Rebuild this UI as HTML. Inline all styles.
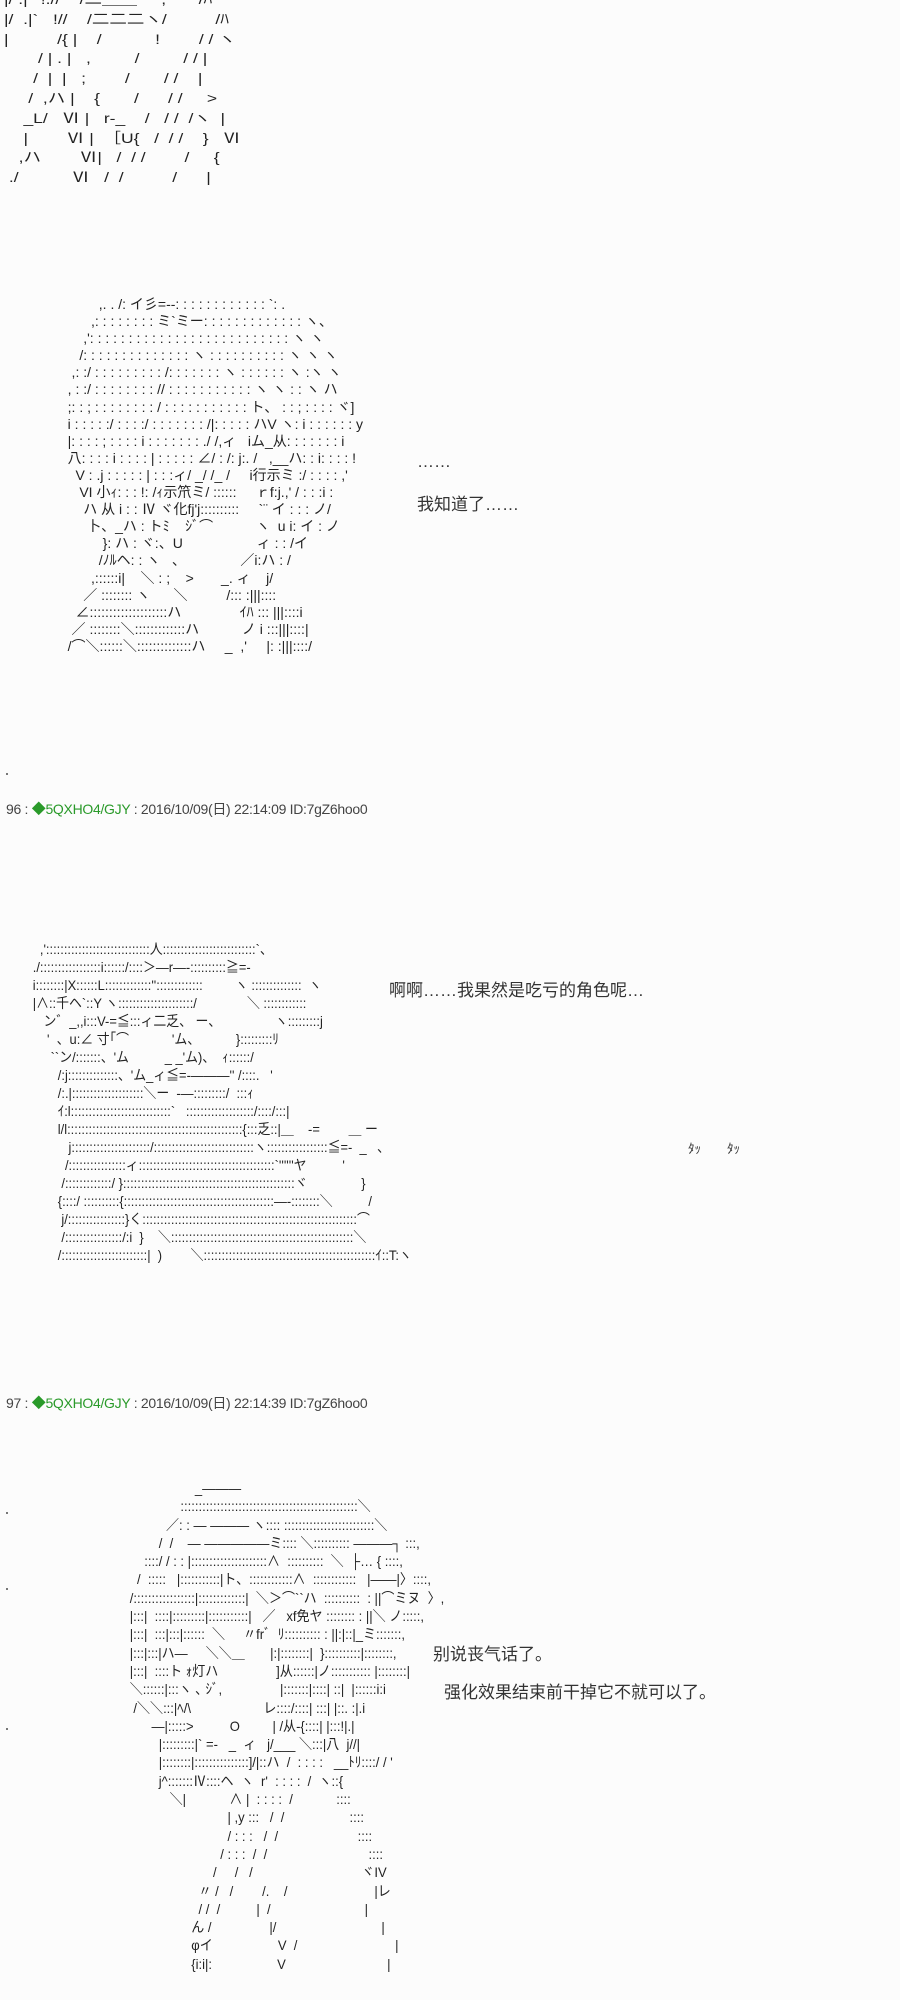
<!DOCTYPE html>
<html><head><meta charset="utf-8">
<style>
html,body{margin:0;padding:0;background:#fcfcfc;}
body{width:900px;height:2000px;position:relative;overflow:hidden;font-family:"Liberation Sans","Noto Sans CJK JP",sans-serif;color:#333;}
pre.aa{position:absolute;margin:0;font-family:"Liberation Sans","Noto Sans CJK JP",sans-serif;font-size:14px;line-height:16.4px;white-space:pre;color:#222;transform-origin:0 0;}
.t{position:absolute;font-size:17px;color:#333;white-space:nowrap;font-family:"Liberation Sans","Noto Sans CJK SC",sans-serif;}
.h{position:absolute;left:6px;font-size:14px;color:#444;white-space:nowrap;letter-spacing:-0.3px;}
.h .g{color:#2a9a2a;}
.dot{position:absolute;left:6px;width:2px;height:2px;background:#777;}
</style></head><body>

<pre class="aa" style="left:4px;top:-10px;line-height:19.8px;transform:scaleX(1.25);">|/ .|'  !.//    /二＿＿     ,'      /ﾊ
|/  .|`   !//    /二二二ヽ/          /ﾊ
|          /{ |    /           !        / / ヽ
       / | . |   ,         /         / / |
      /  |  |   ;        /       / /    |
     /  ,ハ |    {       /      / /     >
    _L/   Ⅵ |   r-_    /   / /  /ヽ  |
    |        Ⅵ |  ［U{   /  / /    }   Ⅵ
   ,ハ        Ⅵ|   /  / /        /     {
 ./           Ⅵ   /  /          /      |</pre>

<pre class="aa" style="left:56px;top:296px;line-height:17.1px;">           ,. . /: イ彡=--: : : : : : : : : : : : `: .
         ,: : : : : : : : ミ`ミー: : : : : : : : : : : : : ヽ、
       ,': : : : : : : : : : : : : : : : : : : : : : : : : : ヽ ヽ
      /: : : : : : : : : : : : : : ヽ : : : : : : : : : : ヽ ヽ ヽ
    ,: :/ : : : : : : : : : /: : : : : : : ヽ : : : : : : ヽ :ヽ ヽ
   , : :/ : : : : : : : : // : : : : : : : : : : : ヽ ヽ : : ヽ ハ
   ;: : ; : : : : : : : : / : : : : : : : : : : : ト、 : : ; : : : : ヾ]
   i : : : : :/ : : : :/ : : : : : : : /|: : : : : ハV ヽ: i : : : : : : y
   |: : : : ; : : : : i : : : : : : : ./ /,ィ   iム_从: : : : : : : i
   八: : : : i : : : : | : : : : : ∠/ : /: j:. /   ,__ハ: : i: : : : !
     V : .j : : : : : | : : :ィ/ _/ /_ /     i行示ミ :/ : : : : ,'
      VI 小ｨ: : : !: /ｨ示笊ミ/ ::::::     ｒf:j.,' / : : :i :
       ハ 从 i : : Ⅳ ヾ化fj'j::::::::::     `¨ イ : : : ノ/
        卜、_ハ : トﾐ    ｼﾞ⌒           ヽ  u i: イ : ノ
            }: ハ : ヾ:、U                   ィ : : /イ
           /ﾉﾙヘ: : ヽ   、              ／i:ハ : /
         ,::::::i|    ＼ : ;    >       _. ィ    j/
       ／ :::::::: ヽ      ＼          /::: :|||::::
     ∠::::::::::::::::::::ハ               ｲﾊ ::: |||::::i
    ／ ::::::::＼:::::::::::::ハ           ノ i :::|||::::|
   /⌒＼::::::＼::::::::::::::ハ     _  ,'     |: :|||::::/</pre>
<div class="dot" style="top:773px"></div>

<div class="t" style="left:417px;top:452px;">……</div>
<div class="t" style="left:417px;top:490px;">我知道了……</div>

<div class="h" style="top:799px;">96 : <span class="g">◆5QXHO4/GJY</span> : 2016/10/09(日) 22:14:09 ID:7gZ6hoo0</div>

<pre class="aa" style="left:22px;top:940px;line-height:18px;transform:scaleX(0.92);">     ,':::::::::::::::::::::::::::::人::::::::::::::::::::::::::`、
   ./:::::::::::::::::i::::::/::::＞―r―-::::::::::≧=-
   i::::::::|X::::::L:::::::::::::'':::::::::::::         ヽ ::::::::::::::  ヽ
   |∧::千ヘ`::Y ヽ:::::::::::::::::::::/              ＼ ::::::::::::
      ン゛_,,i:::V-=≦:::ィ二乏、 ー、               ヽ:::::::::j
       '  、u:∠ 寸｢⌒            'ム、          }:::::::::ﾘ
        ``ン/:::::::、'ム          _ _'ム)、  ｨ::::::/
          /:j::::::::::::::、'ム_ィ≦=-―――'' /::::.   '
          /:.|::::::::::::::::::::＼ー  ‐―:::::::::/  :::ｨ
          ｲ:l::::::::::::::::::::::::::::`   :::::::::::::::::::/::::/:::|
          l/l:::::::::::::::::::::::::::::::::::::::::::::::::{:::乏::|＿    -=        ＿ ー
             j::::::::::::::::::::::/::::::::::::::::::::::::::::ヽ:::::::::::::::::≦=-  _   ､
            /::::::::::::::::ィ::::::::::::::::::::::::::::::::::::::`''''''ヤ          '
           /:::::::::::::/ }::::::::::::::::::::::::::::::::::::::::::::::::ヾ               }
          {::::/ ::::::::::{::::::::::::::::::::::::::::::::::::::::::―-::::::::＼          /
           j/::::::::::::::::}く::::::::::::::::::::::::::::::::::::::::::::::::::::::::::::⌒
           /::::::::::::::::/:i  }    ＼:::::::::::::::::::::::::::::::::::::::::::::::::::＼
          /::::::::::::::::::::::::|  )        ＼::::::::::::::::::::::::::::::::::::::::::::::::ｲ::T:ヽ</pre>

<div class="t" style="left:389px;top:976px;">啊啊……我果然是吃亏的角色呢…</div>
<div class="t" style="left:688px;top:1138px;font-size:13px;">ﾀｯ　　ﾀｯ</div>

<div class="h" style="top:1393px;">97 : <span class="g">◆5QXHO4/GJY</span> : 2016/10/09(日) 22:14:39 ID:7gZ6hoo0</div>

<div class="dot" style="top:1512px"></div>
<div class="dot" style="top:1588px"></div>
<div class="dot" style="top:1728px"></div>

<pre class="aa" style="left:90px;top:1479px;line-height:18.3px;transform:scaleX(0.93);">                             _―――
                         :::::::::::::::::::::::::::::::::::::::::::::::::＼
                     ／: : ― ――― ヽ:::: :::::::::::::::::::::::::＼
                   /  /    ― ―――――ミ:::: ＼:::::::::: ―――┐ :::,
               ::::/ / : : |:::::::::::::::::::::∧  ::::::::::  ＼  ├… { ::::,
             /  :::::   |:::::::::::|ト、::::::::::::∧  ::::::::::::   |――|〉::::,
           /:::::::::::::::::|:::::::::::::|  ＼＞⌒``ハ  ::::::::::  : ||⌒ミヌ  〉,
           |:::|  ::::|:::::::::|:::::::::::|   ／   xf免ヤ :::::::: : ||＼ ノ:::::,
           |:::|  :::|:::|::::::  ＼     〃frﾞ  ﾘ:::::::::: : ||:|::|_ミ:::::::,
           |:::|:::|ハ―     ＼＼＿       |:|::::::::|  }::::::::::|::::::::,
           |:::|  ::::ト ｫ灯ハ                ]从::::::|ノ::::::::::: |::::::::|
           ＼::::::|:::ヽ ､ ｼﾞ,                |:::::::|::::| ::|  |::::::i:i
            /＼＼:::|ﾍ/\                    レ::::/::::| :::| |::. :|.i
                 ―|:::::>          O         | /从-{::::| |:::!|.|
                   |:::::::::|` =-   _  ィ   j/___ ＼:::|八  j//|
                   |::::::::|:::::::::::::::]/|::ハ  /  : : : :   __ﾄﾘ::::/ / '
                   j^:::::::Ⅳ::::ヘ  ヽ  r'  : : : :  /  ヽ::{
                      ＼|            ∧ |  : : : :  /            ::::
                                      | ,y :::   /  /                  ::::
                                      / : : :   /  /                      ::::
                                    / : : :  /  /                            ::::
                                  /     /   /                              ヾIV
                              〃 /   /        /.    /                        |レ
                              / /  /          |  /                          |
                            ん /                |/                             |
                            φイ                  V  /                           |
                            {i:i|:                  V                            |</pre>

<div class="t" style="left:433px;top:1640px;">别说丧气话了。</div>
<div class="t" style="left:444px;top:1678px;">强化效果结束前干掉它不就可以了。</div>

</body></html>
